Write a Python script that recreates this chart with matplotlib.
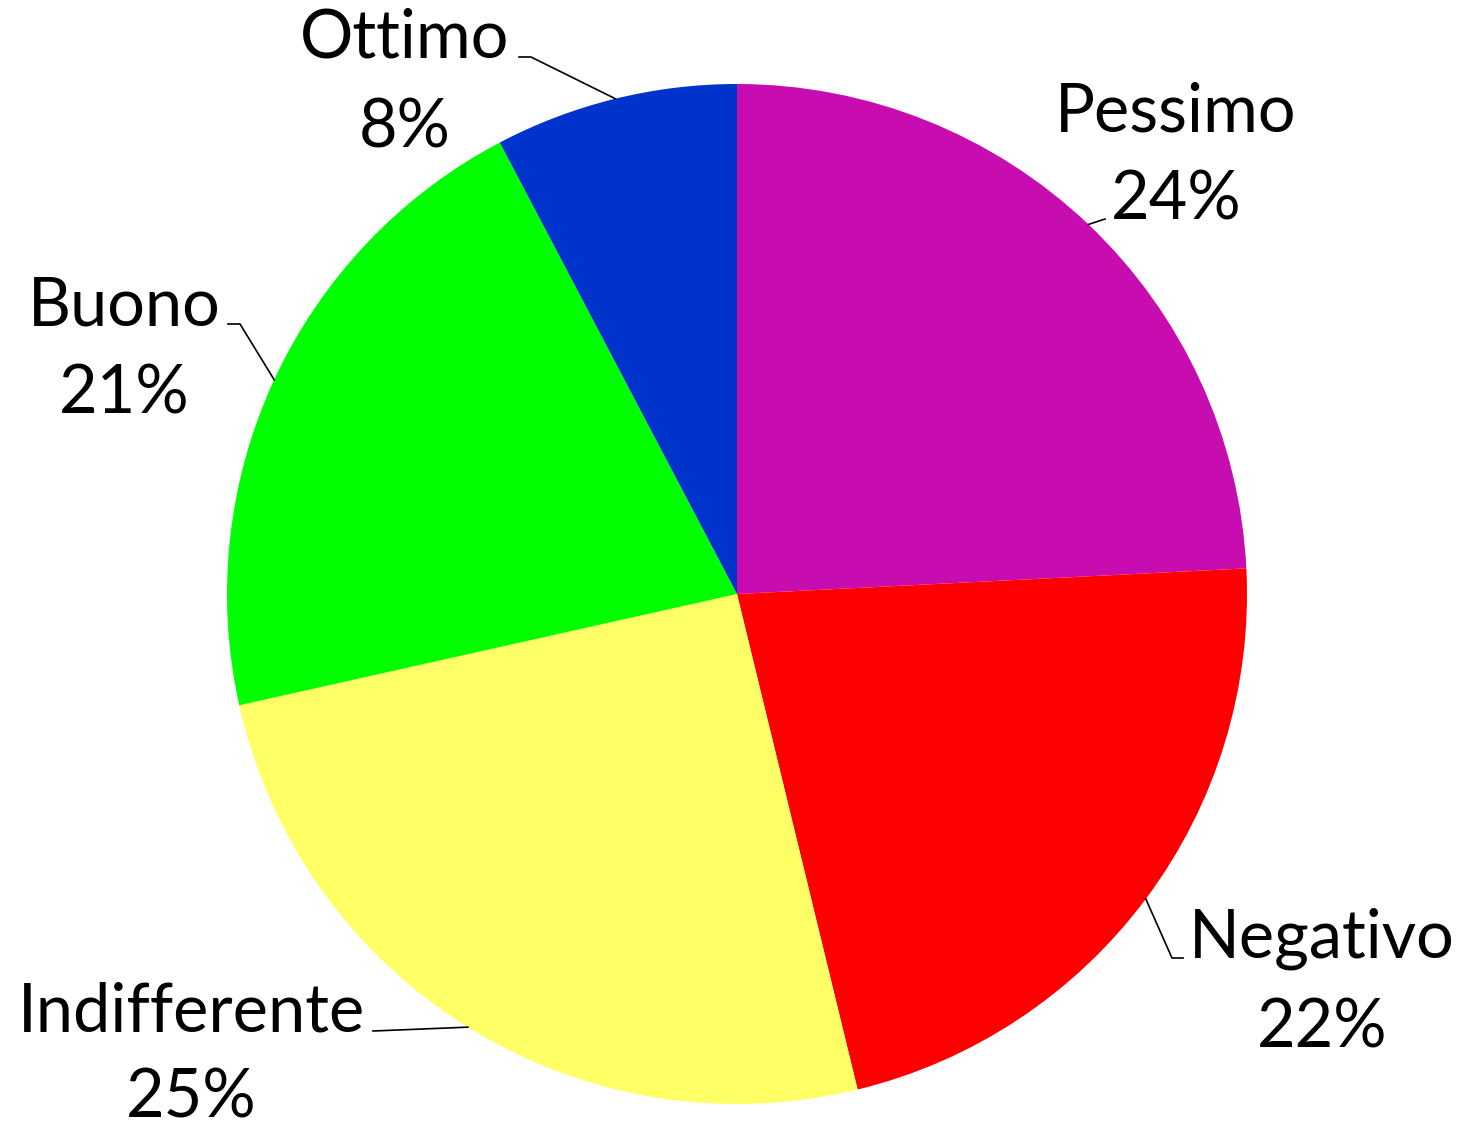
import numpy as np
import matplotlib.pyplot as plt

# Dati (percentuali)
categorie = ['Pessimo', 'Negativo', 'Indifferente', 'Buono', 'Ottimo']
valori = [24.2, 22.0, 25.3, 20.8, 7.7]
colori = ['#C70DB0', '#FF0000', '#FFFF66', '#00FF00', '#0033CC']

# geometria in pixel del riferimento: centro e raggio
W, H = 1462, 1128
CX, CY, R = 737, 594, 510


def px(x, y):
    # pixel (origine in alto a sinistra) -> unità dati (raggio = 1)
    return (x - CX) / R, (CY - y) / R


# posizione etichette: x centro, baseline nome, baseline percentuale (pixel)
pos_etichette = {
    'Pessimo': (1176, 132, 220),
    'Negativo': (1322, 958, 1048),
    'Indifferente': (191, 1032, 1117),
    'Buono': (124, 325, 414),
    'Ottimo': (405, 57, 147),
}
# punti della linea guida prima del bordo della fetta (pixel)
linee_guida = {
    'Pessimo': [(1105, 219)],
    'Negativo': [(1183, 958), (1172, 958)],
    'Indifferente': [(373, 1031)],
    'Buono': [(228, 324), (240, 324)],
    'Ottimo': [(519, 57), (531, 57)],
}
angolo_guida = {'Ottimo': 103.8}

fig = plt.figure(figsize=(W / 100, H / 100), dpi=100)
ax = fig.add_axes([0, 0, 1, 1])

wedges, _ = ax.pie(valori, colors=colori, startangle=90, counterclock=False,
                   radius=1, center=(0, 0), wedgeprops=dict(linewidth=0))

x0, y0 = px(0, 0)
x1, y1 = px(W, H)
ax.set_xlim(x0, x1)
ax.set_ylim(y1, y0)
ax.set_aspect('equal')
ax.axis('off')

font = ['Lato', 'DejaVu Sans']
for w, nome, v in zip(wedges, categorie, valori):
    xc, yb1, yb2 = pos_etichette[nome]
    xt, yt = px(xc, yb1)
    ax.text(xt, yt, nome, ha='center', va='baseline', fontsize=48, family=font)
    xt, yt = px(xc, yb2)
    ax.text(xt, yt, '{:.0f}%'.format(v), ha='center', va='baseline', fontsize=48, family=font)

    ang = angolo_guida.get(nome, (w.theta1 + w.theta2) / 2)
    pts = [px(*p) for p in linee_guida[nome]]
    pts.append((np.cos(np.radians(ang)), np.sin(np.radians(ang))))
    xs, ys = zip(*pts)
    ax.plot(xs, ys, color='black', lw=1.2)

fig.savefig('out.png', dpi=100)
